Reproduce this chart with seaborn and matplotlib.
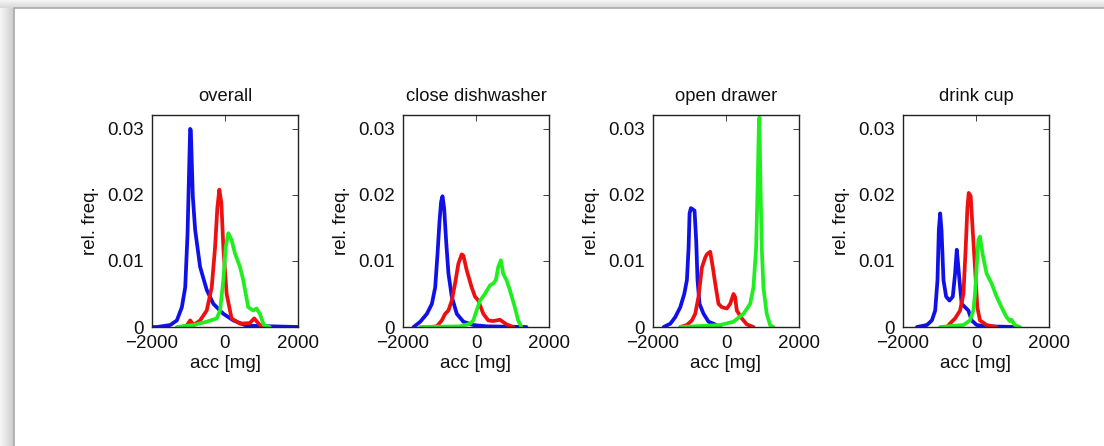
import numpy as np
import pandas as pd
import matplotlib
matplotlib.use("Agg")
import matplotlib.pyplot as plt
import seaborn as sns
from matplotlib.patches import Rectangle

# panel titles
titles = ["overall", "close dishwasher", "open drawer", "drink cup"]

# ---- overall ----
ov_blue_x = [-2000, -1860, -1500, -1318, -1182, -1090, -1027, -982, -955, -936, -882, -818, -682, -500, -318, -45, 227, 590, 2000]
ov_blue_y = [0, 0, 0.0003, 0.001, 0.003, 0.006, 0.014, 0.024, 0.030, 0.0298, 0.0198, 0.0147, 0.0091, 0.0056, 0.0035, 0.002, 0.001, 0.0002, 0]
ov_red_x = [-1200, -1050, -955, -860, -682, -500, -364, -273, -210, -155, -100, -45, 45, 180, 410, 680, 800, 955, 1136]
ov_red_y = [0, 0.0002, 0.001, 0.0003, 0.001, 0.0025, 0.006, 0.012, 0.018, 0.0208, 0.0188, 0.012, 0.005, 0.0013, 0.0005, 0.0006, 0.0013, 0.0003, 0]
ov_green_x = [-1318, -864, -500, -227, -136, -45, 18, 90, 180, 270, 410, 500, 636, 773, 864, 955, 1064, 1227]
ov_green_y = [0, 0.0003, 0.0008, 0.0013, 0.0025, 0.0071, 0.012, 0.0142, 0.0132, 0.0112, 0.0091, 0.0071, 0.003, 0.0025, 0.0028, 0.002, 0.0003, 0]

# ---- close dishwasher ----
cd_blue_x = [-1709, -1527, -1345, -1209, -1118, -1055, -1000, -955, -918, -873, -818, -755, -664, -527, -345, -73, 290, 1382]
cd_blue_y = [0, 0.0008, 0.002, 0.0035, 0.006, 0.011, 0.016, 0.019, 0.0198, 0.018, 0.013, 0.0081, 0.0046, 0.002, 0.0008, 0.0003, 0.0001, 0]
cd_red_x = [-1255, -1073, -936, -845, -755, -664, -573, -482, -391, -345, -255, -118, -27, 64, 200, 336, 473, 655, 836, 1018]
cd_red_y = [0, 0.0001, 0.001, 0.002, 0.0025, 0.004, 0.0066, 0.0096, 0.011, 0.0108, 0.0086, 0.006, 0.0046, 0.004, 0.002, 0.001, 0.0009, 0.0011, 0.0004, 0]
cd_green_x = [-1527, -436, -164, -73, 18, 110, 245, 382, 473, 545, 610, 682, 745, 836, 927, 1064, 1155, 1245]
cd_green_y = [0, 0.0001, 0.0005, 0.001, 0.0025, 0.004, 0.005, 0.0063, 0.0066, 0.0071, 0.0091, 0.0101, 0.0081, 0.0071, 0.0056, 0.003, 0.001, 0]

# ---- open drawer ----
od_blue_x = [-1708, -1526, -1390, -1253, -1144, -1071, -1025, -998, -962, -907, -862, -816, -780, -725, -615, -478, -342, -160]
od_blue_y = [0, 0.0005, 0.0015, 0.003, 0.005, 0.0071, 0.012, 0.0172, 0.018, 0.0178, 0.0176, 0.013, 0.0071, 0.0035, 0.002, 0.0008, 0.0005, 0]
od_red_x = [-1253, -1071, -934, -843, -752, -661, -570, -524, -433, -360, -296, -205, -114, 23, 114, 205, 251, 296, 433, 570, 752]
od_red_y = [0, 0.0003, 0.001, 0.002, 0.0046, 0.009, 0.0105, 0.011, 0.0114, 0.009, 0.0066, 0.0035, 0.003, 0.0028, 0.0035, 0.005, 0.0045, 0.0025, 0.0013, 0.0004, 0]
od_green_x = [-1253, -160, 205, 478, 661, 752, 825, 870, 898, 916, 943, 980, 1025, 1116, 1207, 1298]
od_green_y = [0, 0.0003, 0.0008, 0.002, 0.0035, 0.006, 0.012, 0.022, 0.0299, 0.0317, 0.022, 0.012, 0.006, 0.002, 0.0003, 0]

# ---- drink cup ----
dc_blue_x = [-1618, -1345, -1209, -1118, -1055, -1018, -982, -945, -891, -818, -727, -636, -573, -527, -500, -436, -391, -300, -209, -118, 18, 290, 1109]
dc_blue_y = [0, 0.0003, 0.001, 0.0025, 0.0071, 0.0147, 0.0172, 0.0147, 0.0071, 0.0046, 0.004, 0.0046, 0.0081, 0.0117, 0.0101, 0.006, 0.0035, 0.003, 0.0025, 0.001, 0.0003, 0.0001, 0]
dc_red_x = [-800, -664, -573, -436, -345, -282, -236, -200, -145, -91, -27, 36, 109, 290, 564]
dc_red_y = [0, 0.0008, 0.0013, 0.0025, 0.005, 0.012, 0.018, 0.0203, 0.0198, 0.0147, 0.009, 0.003, 0.001, 0.0003, 0]
dc_green_x = [-982, -345, -164, -73, -27, 18, 64, 109, 182, 290, 427, 564, 700, 836, 927, 973, 1064, 1200]
dc_green_y = [0, 0.0003, 0.001, 0.0025, 0.005, 0.009, 0.0132, 0.0137, 0.011, 0.0081, 0.0066, 0.0046, 0.003, 0.0015, 0.0009, 0.0011, 0.0003, 0]

panels = [
    [(ov_blue_x, ov_blue_y), (ov_red_x, ov_red_y), (ov_green_x, ov_green_y)],
    [(cd_blue_x, cd_blue_y), (cd_red_x, cd_red_y), (cd_green_x, cd_green_y)],
    [(od_blue_x, od_blue_y), (od_red_x, od_red_y), (od_green_x, od_green_y)],
    [(dc_blue_x, dc_blue_y), (dc_red_x, dc_red_y), (dc_green_x, dc_green_y)],
]
colors = ["#1010e8", "#ee1010", "#20ee20"]

sns.set_style("white")
plt.rcParams["font.family"] = ["Liberation Sans", "DejaVu Sans"]
plt.rcParams["font.size"] = 13

fig = plt.figure(figsize=(11.04, 4.46), dpi=100)
fig.patch.set_facecolor("#f4f4f4")

# soft shadow strips on the left and top of the screenshot frame
shade = fig.add_axes([0, 0, 1, 1], zorder=-20)
shade.axis("off")
grad_x = np.linspace(0.96, 0.80, 14)[None, :]
grad_y = np.linspace(0.96, 0.85, 8)[:, None]
shade.imshow(grad_x, cmap="gray", vmin=0, vmax=1, aspect="auto",
             extent=(0, 14 / 1104, 0, 1), transform=fig.transFigure)
shade.imshow(grad_y, cmap="gray", vmin=0, vmax=1, aspect="auto",
             extent=(0, 1, 1 - 8 / 446, 1), transform=fig.transFigure)

# white "page" with a thin gray border
fig.patches.append(Rectangle((14 / 1104, -0.01), 1.0, 1 - 8 / 446 + 0.01,
                             transform=fig.transFigure, facecolor="white",
                             edgecolor="#aaaaaa", linewidth=1.2, zorder=-10))

lefts = [152, 403, 653, 903]
for i, left in enumerate(lefts):
    ax = fig.add_axes([left / 1104, (446 - 327) / 446, 146 / 1104, 212 / 446])
    ax.set_zorder(1)
    ax.patch.set_alpha(0)
    for (xs, ys), c in zip(panels[i], colors):
        df = pd.DataFrame({"acc": xs, "freq": ys})
        sns.lineplot(data=df, x="acc", y="freq", color=c, linewidth=2.7,
                     sort=False, ax=ax)
    ax.set_xlim(-2000, 2000)
    ax.set_ylim(0, 0.0321)
    ax.set_xticks([-2000, 0, 2000])
    ax.set_xticklabels(["\u22122000", "0", "2000"])
    ax.set_yticks([0, 0.01, 0.02, 0.03])
    ax.set_yticklabels(["0", "0.01", "0.02", "0.03"])
    ax.tick_params(direction="in", length=4, width=0.6, top=True, right=True,
                   labelsize=13.5, colors="#222222", labelcolor="#111111")
    ax.tick_params(axis="x", pad=6)
    ax.tick_params(axis="y", pad=6)
    for s in ax.spines.values():
        s.set_color("#222222")
        s.set_linewidth(1.0)
    ax.set_title(titles[i], fontsize=13.2, pad=10, color="#111111")
    ax.set_xlabel("acc [mg]", fontsize=13.5, labelpad=2, color="#111111")
    ax.set_ylabel("rel. freq.", fontsize=13.5, labelpad=6, color="#111111")

fig.savefig("out.png", dpi=100, facecolor=fig.get_facecolor())
